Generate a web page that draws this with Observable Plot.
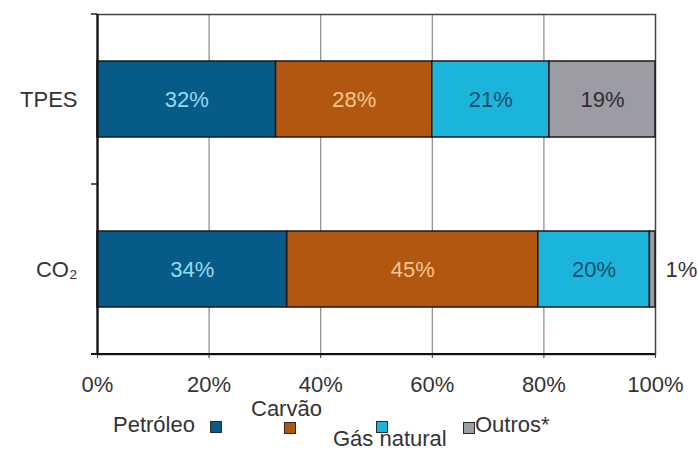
<!DOCTYPE html>
<html><head><meta charset="utf-8">
<script src="https://cdn.jsdelivr.net/npm/d3@7"></script>
<script src="https://cdn.jsdelivr.net/npm/@observablehq/plot@0.6"></script>
<style>
body{margin:0;background:#fff;}
#wrap{position:relative;width:699px;height:453px;font-family:"Liberation Sans",Arial,sans-serif;color:#333;}
.lg{position:absolute;font-size:22px;line-height:1;white-space:nowrap;color:#333;}
.sw{position:absolute;width:12px;height:12px;box-sizing:border-box;border:1.5px solid #2a2a2a;}
</style></head><body><div id="wrap"></div>
<script>
const categories = ["TPES", "CO₂"];
const sources = ["Petróleo", "Carvão", "Gás natural", "Outros*"];
const tpesShares = [32, 28, 21, 19];
const co2Shares = [34, 45, 20, 1];
const xTickValues = [0, 20, 40, 60, 80, 100];
const gridValues = [20, 40, 60, 80];
const barColors = ["#075b89", "#b1570f", "#1bb5db", "#9c9ca4"];
const labelColors = ["#93dcf0", "#f4c590", "#184c70", "#2e2e2e"];

const rows = [];
categories.forEach((c, i) => {
  const vals = i === 0 ? tpesShares : co2Shares;
  sources.forEach((s, j) => rows.push({category: c, source: s, value: vals[j]}));
});
const smallRows = rows.filter(d => d.value < 5);
const totalOf = cat => d3.sum(rows.filter(r => r.category === cat), r => r.value);

const labelMarks = sources.map((s, j) =>
  Plot.text(rows, Plot.stackX({
    x: "value", y: "category", z: "source",
    text: d => (d.source === s && d.value >= 5) ? d.value + "%" : "",
    fill: labelColors[j]
  }))
);

const chart = Plot.plot({
  width: 699, height: 400,
  marginLeft: 97, marginRight: 44, marginTop: 14, marginBottom: 46,
  style: {fontSize: "22px", fontFamily: "'Liberation Sans', Arial, sans-serif", color: "#333", background: "#fff"},
  x: {domain: [0, 100], ticks: xTickValues, tickFormat: d => d + "%", tickSize: 4, tickPadding: 18, label: null},
  y: {domain: categories, paddingInner: 0.553, paddingOuter: 0.2765, tickSize: 0, tickPadding: 20, label: null},
  color: {domain: sources, range: barColors},
  marks: [
    Plot.ruleX(gridValues, {stroke: "#8a8a8a", strokeWidth: 1.2}),
    Plot.frame({stroke: "#444", strokeWidth: 1.5}),
    Plot.barX(rows, Plot.stackX({x: "value", y: "category", fill: "source", stroke: "#1a1a1a", strokeWidth: 1.5})),
    ...labelMarks,
    Plot.text(smallRows, {x: d => totalOf(d.category), y: "category", text: d => d.value + "%", textAnchor: "start", dx: 10, fill: "#333"}),
    Plot.ruleX([0], {stroke: "#111", strokeWidth: 2.2})
  ]
});

// band-boundary ticks and bottom axis line drawn from the library's scales
const sx = chart.scale("x"), sy = chart.scale("y");
const x0 = sx.apply(0), x1 = sx.apply(100);
const step = sy.step ?? ((sy.range[1] - sy.range[0]) / categories.length);
const bw = sy.bandwidth;
const bounds = categories.map(c => sy.apply(c) - (step - bw) / 2);
bounds.push(bounds[bounds.length - 1] + step);
const g = d3.select(chart).append("g");
g.append("line").attr("x1", x0 - 6).attr("x2", x1).attr("y1", bounds[bounds.length-1]).attr("y2", bounds[bounds.length-1])
  .attr("stroke", "#111").attr("stroke-width", 2.2);
bounds.slice(0, -1).forEach(b => {
  g.append("line").attr("x1", x0 - 6).attr("x2", x0).attr("y1", b).attr("y2", b).attr("stroke", "#222").attr("stroke-width", 1.5);
});

const wrap = document.getElementById("wrap");
wrap.appendChild(chart);
chart.style.position = "absolute"; chart.style.left = "0"; chart.style.top = "0";

// legend
const legendText = [
  {left: 113, top: 414}, {left: 251, top: 398}, {left: 333, top: 428}, {left: 475, top: 414}
];
const legendSwatch = [
  {left: 210, top: 421}, {left: 284, top: 422}, {left: 376, top: 421}, {left: 463, top: 422}
];
sources.forEach((s, j) => {
  const t = document.createElement("div");
  t.className = "lg"; t.textContent = s;
  t.style.left = legendText[j].left + "px"; t.style.top = legendText[j].top + "px";
  wrap.appendChild(t);
  const sw = document.createElement("div");
  sw.className = "sw"; sw.style.background = barColors[j];
  sw.style.left = legendSwatch[j].left + "px"; sw.style.top = legendSwatch[j].top + "px";
  wrap.appendChild(sw);
});
</script></body></html>
